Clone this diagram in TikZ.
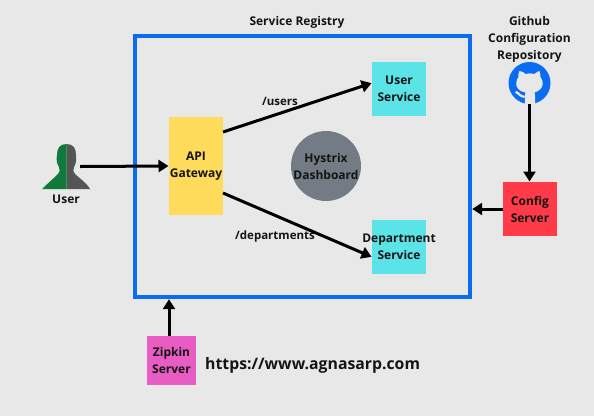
\documentclass[tikz,border=0pt]{standalone}
\usepackage{fontspec}
\setmainfont{Open Sans}
\usetikzlibrary{arrows.meta,calc}
\definecolor{bgc}{HTML}{E8E8E8}
\definecolor{regblue}{HTML}{0A6CF0}
\definecolor{gityel}{HTML}{FFDB5C}
\definecolor{svccyan}{HTML}{5CE3E8}
\definecolor{hysgrey}{HTML}{737C85}
\definecolor{cfgred}{HTML}{FF3B4A}
\definecolor{zipk}{HTML}{E85CC4}
\definecolor{txtc}{HTML}{141414}
\definecolor{usrgreen}{HTML}{0F7A3C}
\definecolor{usrgrey}{HTML}{555555}
\tikzset{
 x=1pt,y=-1pt,
 lbl/.style={font=\bfseries\fontsize{12}{17}\selectfont,text=txtc,align=center,inner sep=0pt},
 boxn/.style={lbl,minimum width=54pt,minimum height=54pt,outer sep=0pt},
 conn/.style={line width=3pt,black,-{Triangle[length=10pt,width=12pt]},shorten >=0.5pt},
}
\begin{document}
\begin{tikzpicture}
\useasboundingbox (0,0) rectangle (594,416);
\fill[bgc] (0,0) rectangle (594,416);
\node[draw=regblue,line width=3.4pt,minimum width=335pt,minimum height=261pt,inner sep=0pt,outer sep=1.7pt] (reg) at (302.5,166.5) {};
\node[lbl] (regl) at (297,22) {Service Registry};
\node[boxn,fill=gityel,minimum height=98pt] (api) at (196,166) {\raisebox{-2pt}{API}\\\raisebox{-2pt}{Gateway}};
\node[boxn,fill=svccyan] (usr) at (399,89) {User\\Service};
\node[boxn,fill=svccyan] (dep) at (399,247) {\makebox[0pt]{Department}\\Service};
\node[lbl,circle,fill=hysgrey,minimum size=70pt] (hys) at (326,166) {Hystrix\\Dashboard};
\node[boxn,fill=cfgred] (cfg) at (530,209) {Config\\Server};
\node[boxn,fill=zipk,minimum width=49pt,minimum height=49pt] (zip) at (171.5,360.5) {Zipkin\\Server};
\node[lbl,font=\bfseries\fontsize{15.8}{20}\selectfont,anchor=west] (url) at (205,365) {https://www.agnasarp.com};
\node[lbl] (gitl) at (529.5,39.5) {Github\\Configuration\\Repository};
% user icon
\node[inner sep=0pt,minimum width=48pt,minimum height=46pt] (user) at (66,166.5) {};
\fill[usrgrey] (66.5,144) .. controls (73,144) and (76,148) .. (76,155) .. controls (76.5,160) and (76,164) .. (74,167) .. controls (73,170) and (73,172) .. (75,174) .. controls (79,178) and (86,182) .. (90,189) -- (66.5,189) -- cycle;
\fill[usrgreen] (66.5,144) .. controls (60,144) and (57,148) .. (57,155) .. controls (56,160) and (57,164) .. (59,167) .. controls (60,170) and (60,172) .. (58,174) .. controls (54,178) and (47,184) .. (42,189) -- (66.5,189) -- cycle;
\node[lbl] (userl) at (66,199.5) {User};
% github icon
\node[circle,fill=regblue,minimum size=42pt,inner sep=0pt,outer sep=0pt] (git) at (529.5,83) {};
\begin{scope}[shift={(529.5,83)}]
\fill[bgc] (-10,-12) .. controls (-7,-12) and (-5,-10) .. (-4,-9) .. controls (-1,-10) and (2,-10) .. (5,-9) .. controls (7,-11) and (9,-12) .. (10,-12) .. controls (11,-9) and (11,-7) .. (11,-6) .. controls (14,-2) and (14,3) .. (11,6) .. controls (9,8) and (7,9) .. (5,9.5) .. controls (6,12) and (5.5,16) .. (5.5,21) -- (-4.5,21) .. controls (-4.5,16) and (-5,12) .. (-4,9.5) .. controls (-7,9) and (-10,8) .. (-12,5) .. controls (-14,2) and (-13.5,-3) .. (-11,-6) .. controls (-11.5,-8) and (-11,-10) .. (-10,-12) -- cycle;
\draw[bgc,line width=2.2pt] (-14,9) .. controls (-11,9) and (-11,13) .. (-5,14);
\end{scope}
% connectors
\draw[conn] ($(user.east)+(-10,0)$) -- (api.west);
\draw[conn] ($(api.north east)+(0,15)$) -- ($(usr.west)+(0,-6)$);
\draw[conn] ($(api.south east)+(0,-22)$) -- ($(dep.west)+(0,10)$);
\draw[conn] (git.south) -- (git.south |- cfg.north);
\draw[conn] (cfg.west) -- (reg.east |- cfg.west);
\draw[conn] (zip.north -| 169,336) -- (169,336 |- reg.south);
\node[lbl,font=\fontsize{11.5}{14}\selectfont\bfseries] (ul) at (280,101) {/users};
\node[lbl,font=\fontsize{11.5}{14}\selectfont\bfseries] (dl) at (275,236.5) {/departments};
\end{tikzpicture}
\end{document}
